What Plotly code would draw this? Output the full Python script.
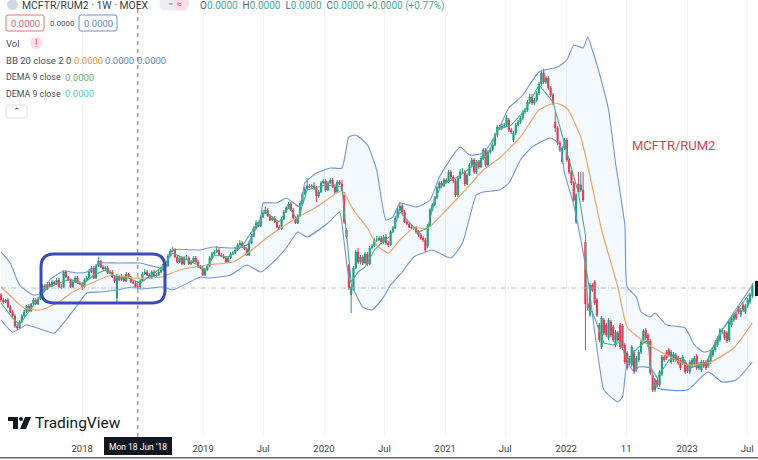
import pandas as pd
import plotly.graph_objects as go

W, H, AXIS_H = 758, 460, 23
PLOT_H = H - AXIS_H

week_start = "2017-05-01"
open_ = [165,160,158,160,153,148,144,134,132,138,
144,148,154,149,156,160,156,161,168,174,
171,176,174,178,176,180,173,173,188,183,
180,173,178,182,177,176,173,180,182,188,
192,182,194,199,193,191,192,187,188,183,
162,184,180,183,179,186,183,178,177,173,
173,179,186,188,185,182,188,184,185,188,
190,196,194,204,209,210,203,198,202,196,
202,202,196,198,202,198,193,192,185,190,
194,202,206,208,210,205,204,202,198,202,
206,207,210,215,217,213,211,205,217,224,
232,237,234,243,247,250,244,240,242,238,
233,231,241,248,252,256,250,242,237,244,
257,266,271,274,273,274,272,264,268,277,
279,270,277,280,273,268,278,276,265,230,
195,165,170,192,208,198,203,197,206,196,
212,214,220,220,222,218,223,217,215,228,
232,242,250,254,248,238,236,233,232,232,
228,225,222,220,214,234,250,255,262,272,
277,274,280,278,288,283,279,265,282,288,
288,276,285,295,300,288,298,293,302,310,
295,308,310,315,325,333,332,334,335,340,
330,320,327,335,338,342,348,350,358,363,
357,360,367,376,387,378,382,372,365,338,
332,317,298,312,320,300,288,277,238,276,
270,270,218,156,145,175,178,160,135,113,
140,135,122,138,133,115,127,135,134,115,
107,97,95,108,90,100,108,118,130,125,
119,85,70,80,75,86,103,108,110,98,
100,105,102,100,97,98,94,88,94,96,
104,92,90,98,98,94,98,105,110,115,
120,128,128,127,120,135,140,146,152,145,
155,148,154,158,164]
high = [167,162,161,162,155,150,146,136,140,146,
150,155,156,157,162,162,163,170,176,176,
178,178,180,179,182,182,176,190,190,184,
181,180,184,184,179,178,182,184,191,194,
194,196,203,200,195,194,194,190,190,185,
186,184,186,184,188,187,184,180,179,176,
181,188,191,190,187,190,190,187,190,192,
198,198,206,211,213,212,205,204,204,204,
205,204,200,204,204,200,195,194,192,196,
204,208,210,214,212,207,206,204,204,208,
209,212,217,220,219,215,213,219,226,234,
240,238,245,250,253,252,246,244,244,240,
235,243,250,254,258,258,252,244,246,259,
268,273,282,276,276,278,274,270,279,281,
281,279,282,282,276,280,280,280,268,232,
196,175,194,210,212,205,205,208,208,214,
216,222,224,224,224,225,226,219,230,234,
244,252,258,256,250,240,238,235,234,234,
230,227,224,222,236,252,257,264,274,279,
279,282,282,290,290,285,281,284,291,292,
290,287,297,302,302,300,300,304,312,312,
310,312,317,327,335,335,336,337,345,342,
332,329,337,340,344,350,352,360,366,366,
362,369,378,389,391,384,384,374,367,348,
334,319,314,322,322,302,290,279,267,288,
288,288,220,158,177,177,180,162,137,144,
142,137,142,140,135,130,129,137,136,117,
109,104,115,110,104,110,120,131,132,127,
121,87,82,82,90,105,105,110,112,110,
108,107,104,102,105,100,96,100,102,104,
106,98,100,100,100,102,110,112,120,124,
132,132,130,129,140,144,147,148,154,152,
157,156,162,167,177]
low = [158,156,157,152,147,143,132,130,131,137,
143,147,148,148,155,155,155,160,167,170,
170,173,173,175,175,172,171,172,182,179,
172,172,177,176,175,170,172,179,181,187,
181,181,193,192,190,190,186,186,182,177,
157,179,179,178,178,182,177,176,172,171,
171,178,185,184,181,181,183,183,184,187,
189,193,193,203,208,202,197,197,195,195,
200,195,195,197,197,192,191,184,184,189,
193,201,205,207,204,203,201,197,197,201,
205,206,209,214,212,210,204,204,216,223,
231,233,233,242,246,243,239,239,237,232,
230,230,240,247,251,249,241,236,236,243,
256,265,270,272,272,270,258,262,267,276,
268,269,276,272,266,267,275,269,236,221,
170,147,169,191,196,196,195,196,194,195,
211,213,218,219,216,216,215,213,214,227,
231,241,249,246,237,235,232,231,230,226,
223,220,218,208,212,233,249,254,261,271,
272,273,276,277,281,277,263,263,281,287,
274,275,284,294,286,286,291,292,300,293,
293,306,309,314,323,330,330,332,334,328,
326,318,325,334,336,340,346,348,356,355,
355,358,365,374,376,376,370,363,355,328,
315,308,296,310,298,286,275,258,236,266,
268,258,110,150,143,168,155,143,118,111,
125,123,120,123,118,113,118,111,110,96,
90,95,93,86,88,98,106,116,120,113,
85,68,68,73,73,84,98,100,103,96,
98,98,95,90,95,86,87,86,92,94,
90,90,88,92,90,92,96,103,108,113,
118,126,120,117,118,133,138,140,146,143,
148,146,152,156,162]
close = [160,158,160,153,148,144,134,132,138,144,
148,154,149,156,160,156,161,168,174,171,
176,174,178,176,180,173,173,188,183,180,
173,178,182,177,176,173,180,182,188,192,
182,194,199,193,191,192,187,188,183,179,
184,180,183,179,186,183,178,177,173,173,
179,186,188,185,182,188,184,185,188,190,
196,194,204,209,210,203,198,202,196,202,
202,196,198,202,198,193,192,185,190,194,
202,206,208,210,205,204,202,198,202,206,
207,210,215,217,213,211,205,217,224,232,
237,234,243,247,250,244,240,242,238,233,
231,241,248,252,256,250,242,237,244,257,
266,271,274,273,274,272,264,268,277,279,
270,277,280,273,268,278,276,270,238,223,
172,173,192,208,198,203,197,206,196,212,
214,220,220,222,218,223,217,215,228,232,
242,250,254,248,238,236,233,232,232,228,
225,222,220,210,234,250,255,262,272,277,
274,280,278,288,283,279,265,282,288,288,
276,285,295,300,288,298,293,302,310,295,
308,310,315,325,333,332,334,335,342,330,
328,327,335,338,342,348,350,358,363,357,
360,367,376,387,378,382,372,365,357,332,
317,310,312,320,300,288,277,260,265,268,
275,260,156,152,175,170,157,145,120,142,
127,125,140,125,120,128,120,113,112,98,
92,102,113,88,102,108,118,129,122,115,
87,70,80,75,88,103,100,102,105,108,
106,100,97,92,103,88,89,98,100,102,
92,96,98,94,92,100,108,110,118,122,
130,130,122,119,138,142,145,142,148,150,
150,154,160,165,175]

upper_week = [0,4,8,14,18,21,27,33,37,43,50,60,70,74,86,91,100,106,109,112,113,119,123,129,131,136,142,147,150,153,158,162,166,169,172,179,185,189,195,198,202,208,212,215,219,225,232,240,244,247,251,253,255,258,262,265,269,270,274,276,280,282,287,295,299,303,306,311,324]
upper = [208,197,175,165,167,180,189,187,188,197,197,197,192,210,210,213,212,215,227,240,257,257,262,253,277,287,292,292,323,325,315,290,240,243,257,253,260,283,305,313,305,307,320,333,352,365,388,393,400,415,412,423,410,387,350,297,235,173,163,148,143,147,135,132,115,108,110,130,175]
lower_week = [0,5,11,18,23,28,33,37,43,50,57,60,70,74,86,89,99,106,112,117,123,128,132,141,146,147,150,156,160,165,168,173,178,183,186,194,199,205,208,215,219,224,229,237,241,243,247,253,256,258,260,266,268,270,273,275,280,283,296,302,305,311,317,324]
lower = [140,128,135,130,127,140,155,167,168,170,173,171,173,170,183,182,185,195,188,197,212,228,223,237,248,237,183,153,150,163,175,188,203,208,210,202,217,265,268,270,277,300,313,322,315,287,255,182,128,95,70,58,63,97,88,93,92,72,70,83,88,78,80,98]
basis_week = [0,5,10,17,25,31,40,48,57,69,77,89,100,107,115,126,136,147,152,158,162,167,172,178,184,192,199,208,215,224,232,239,244,250,255,259,266,270,278,287,296,306,316,324]
basis = [173,162,152,150,158,168,178,185,182,183,190,195,198,208,223,240,253,269,250,232,215,207,220,232,232,250,267,290,302,323,350,357,352,323,273,230,173,133,117,105,95,98,112,137]
dema_week = [0,5,8,10,15,20,25,30,35,40,45,50,55,60,65,70,74,80,85,88,92,98,104,110,114,120,124,128,132,140,147,151,154,157,161,164,168,172,176,180,184,187,190,196,200,205,210,214,220,226,232,238,244,249,252,253,255,260,264,267,270,275,279,280,283,288,294,297,304,310,323]
dema = [157,142,135,142,158,172,177,181,175,185,190,182,182,177,185,194,207,200,195,190,205,203,214,235,248,238,253,240,270,275,273,178,188,193,210,217,224,248,238,228,232,260,275,282,288,297,305,330,335,350,375,358,308,267,225,150,148,117,115,118,100,113,120,93,82,100,102,92,97,127,167]

tick_dates = ["2017-05-01","2018-01-01","2019-01-01","2019-07-01","2020-01-01","2020-07-01","2021-01-01","2021-07-01","2022-01-01","2022-07-01","2023-01-01","2023-07-01"]
tick_labels = ["May","2018","2019","Jul","2020","Jul","2021","Jul","2022","11","2023","Jul"]

GREEN, RED = "#1f9e7c", "#e23a50"
BAND, FILL, ORANGE, DEMA = "#7395d6", "rgba(33,140,235,0.05)", "#f0a566", "#4fae80"
FONT = "Roboto, sans-serif"

dates = pd.date_range(week_start, periods=len(close), freq="7D")
def at(weeks):
    return [dates[w] for w in weeks]

def px(x): return x / W
def py(y): return (PLOT_H - y) / PLOT_H

fig = go.Figure()
fig.add_trace(go.Scatter(x=at(lower_week), y=lower, mode="lines",
                         line=dict(color=BAND, width=1.1, shape="spline", smoothing=0.5)))
fig.add_trace(go.Scatter(x=at(upper_week), y=upper, mode="lines", fill="tonexty", fillcolor=FILL,
                         line=dict(color=BAND, width=1.1, shape="spline", smoothing=0.5)))
fig.add_trace(go.Candlestick(x=dates, open=open_, high=high, low=low, close=close, whiskerwidth=0,
                             increasing=dict(line=dict(color=GREEN, width=1), fillcolor=GREEN),
                             decreasing=dict(line=dict(color=RED, width=1), fillcolor=RED)))
fig.add_trace(go.Scatter(x=at(basis_week), y=basis, mode="lines",
                         line=dict(color=ORANGE, width=1.2, shape="spline", smoothing=0.5)))
fig.add_trace(go.Scatter(x=at(dema_week), y=dema, mode="lines",
                         line=dict(color=DEMA, width=1.1)))

def rect(x0, y0, x1, y1, line=None, fill=None, width=1):
    return dict(type="rect", xref="paper", yref="paper", x0=px(x0), x1=px(x1), y0=py(y0), y1=py(y1),
                line=dict(color=line or "rgba(0,0,0,0)", width=width if line else 0), fillcolor=fill or "rgba(0,0,0,0)")

def round_path(x0, y0, x1, y1, r, ry=None):
    ry = ry or r
    X0, X1, Y0, Y1 = px(x0), px(x1), py(y0), py(y1)
    a, b = r / W, ry / PLOT_H
    return (f"M{X0+a},{Y0} L{X1-a},{Y0} Q{X1},{Y0} {X1},{Y0-b} L{X1},{Y1+b} Q{X1},{Y1} {X1-a},{Y1} "
            f"L{X0+a},{Y1} Q{X0},{Y1} {X0},{Y1+b} L{X0},{Y0-b} Q{X0},{Y0} {X0+a},{Y0} Z")

def pbox(x0, y0, x1, y1, r, line, fill="white", width=1):
    return dict(type="path", xref="paper", yref="paper", path=round_path(x0, y0, x1, y1, r),
                line=dict(color=line, width=width), fillcolor=fill)

def poly(points, fill):
    d = "M" + " L".join(f"{px(x)},{py(y)}" for x, y in points) + " Z"
    return dict(type="path", xref="paper", yref="paper", path=d, line=dict(width=0), fillcolor=fill)

shapes = [
    # horizontal last-price line and crosshair
    dict(type="line", xref="x", yref="y", x0=dates[0], x1=dates[-1], y0=172, y1=172,
         line=dict(color="#9db8b3", width=0.8, dash="5px,2px,1px,2px")),
    dict(type="line", xref="x", yref="paper", x0="2018-06-18", x1="2018-06-18", y0=0, y1=1,
         line=dict(color="#777777", width=1, dash="4px,4px")),
    # highlight around 2018
    dict(type="path", xref="paper", yref="paper", path=round_path(41, 254, 165, 303, 13),
         line=dict(color="#3b4ab6", width=3), fillcolor="rgba(0,0,0,0)"),
    # legend boxes
    pbox(6, 15, 44, 31, 2, "#d9757f"),
    pbox(79, 15, 117, 31, 2, "#6f8fd0"),
    pbox(6, 105, 27, 118, 2, "#d9dce3"),
    dict(type="circle", xref="paper", yref="paper", x0=px(30), x1=px(42), y0=py(37), y1=py(49),
         fillcolor="#fbdde2", line=dict(width=0)),
    pbox(160, -6, 188, 10, 6, "#eceef2", "#eceef2"),
    pbox(174, -6, 188, 10, 6, "#fbdde6", "#fbdde6"),
    dict(type="circle", xref="paper", yref="paper", x0=px(7), x1=px(18), y0=py(-1), y1=py(10),
         fillcolor="#d5d8e2", line=dict(width=0)),
    # crosshair date label, price sliver, bottom rule
    rect(104, 437, 172, 455, fill="#131722"),
    rect(755, 281, 758, 296, fill="#131722"),
    rect(0, 457, 758, 458.5, fill="#666666"),
    # TradingView logo
    poly([(8, 417), (18, 417), (18, 429), (13, 429), (13, 421), (8, 421)], "#131722"),
    dict(type="circle", xref="paper", yref="paper", x0=px(19), x1=px(23), y0=py(417), y1=py(421),
         fillcolor="#131722", line=dict(width=0)),
    poly([(25, 417), (31, 417), (26, 429), (20, 429)], "#131722"),
]

def label(x, y, text, color="#4a4e59", size=9.5, anchor="left", family=FONT):
    return dict(xref="paper", yref="paper", x=px(x), y=py(y), text=text, showarrow=False, xanchor=anchor,
                yanchor="middle", font=dict(color=color, size=size, family=family), borderpad=0, borderwidth=0)

TEAL = "#48a99c"
def ohlc(name):
    return f'<span style="color:#5a5e69">{name}</span>0.0000'

annotations = [
    label(22, 6, "MCFTR/RUM2 · 1W · MOEX", "#3a3e49", 10.4),
    label(168, 4, "━", "#7d818c", 6),
    label(177, 4, "≈", "#e2456a", 9),
    label(200, 6, "  ".join(ohlc(n) for n in "OHLC") + " +0.0000 (+0.77%)", TEAL, 10),
    label(25, 23, "0.0000", "#d9626e", 9.5, "center"),
    label(50, 23, "0.0000", "#4a4e59", 8),
    label(98, 23, "0.0000", "#5f83c8", 9.5, "center"),
    label(6, 43, "Vol"),
    label(36, 43, "!", "#e2566a", 10, "center"),
    label(6, 60, "BB 20 close 2 0"),
    label(74, 60, "0.0000", "#e58f3c"),
    label(105, 60, "0.0000", "#5f83c8"),
    label(137, 60, "0.0000", "#5f83c8"),
    label(6, 77, "DEMA 9 close", size=8.8),
    label(65, 77, "0.0000", "#64b26a"),
    label(6, 94, "DEMA 9 close", size=8.8),
    label(65, 94, "0.0000", "#4fc9d6"),
    label(16.5, 111, "⌃", "#3a3e49", 9, "center"),
    label(632, 145, "MCFTR/RUM2", "#d9434e", 13),
    label(35, 423, "TradingView", "#131722", 15.5),
    label(138, 447, "Mon 18 Jun '18", "#ffffff", 8.5, "center"),
]

fig.update_layout(
    width=W, height=H, margin=dict(l=0, r=0, t=0, b=AXIS_H), showlegend=False,
    paper_bgcolor="white", plot_bgcolor="white", shapes=shapes, annotations=annotations,
    hovermode=False,
    xaxis=dict(type="date", range=["2017-04-28", "2023-08-03"], rangeslider=dict(visible=False),
               tickmode="array", tickvals=tick_dates, ticktext=tick_labels, ticks="outside", ticklen=3,
               tickcolor="white", showline=False,
               showgrid=True, gridcolor="#f1f3f8", gridwidth=1, zeroline=False,
               tickfont=dict(size=9.5, color="#3a3e49", family=FONT)),
    yaxis=dict(range=[AXIS_H, H], showticklabels=False, showgrid=False, zeroline=False, ticks="", showline=False),
)
fig.write_html("out.html", config=dict(displayModeBar=False),
               post_script="document.body.style.margin='0';document.body.style.overflow='hidden';")
